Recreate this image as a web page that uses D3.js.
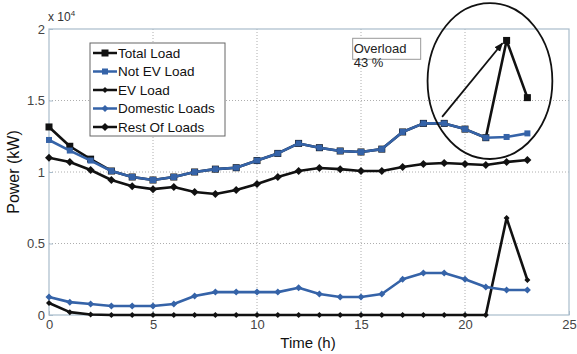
<!DOCTYPE html>
<html>
<head>
<meta charset="utf-8">
<script src="https://cdn.jsdelivr.net/npm/d3@7"></script>
<style>
body{margin:0;background:#fff}
text{font-family:"Liberation Sans",Arial,sans-serif}
</style>
</head>
<body>
<div id="chart"></div>
<script>
var width = 577
var height = 354
var margin = {top:29, right:8, bottom:39, left:49}

// hours 0..23, values in kW
var hours = d3.range(0,24)
var totalLoad = [13150,11800,10900,10070,9650,9440,9650,10000,10200,10300,10800,11300,12000,11700,11470,11400,11600,12800,13400,13400,13000,12400,19200,15200]
var notEvLoad = [12240,11500,10800,10070,9650,9440,9650,10000,10200,10300,10800,11300,12000,11700,11470,11400,11600,12800,13400,13400,13000,12400,12450,12700]
var evLoad = [840,200,30,0,0,0,0,0,0,0,0,0,0,0,0,0,0,0,0,0,0,0,6780,2450]
var domesticLoads = [1260,900,770,630,630,630,770,1330,1600,1600,1600,1600,1900,1470,1260,1260,1470,2500,2940,2940,2500,1960,1750,1750]
var restOfLoads = [11000,10700,10140,9440,9000,8800,8950,8600,8460,8740,9160,9650,10070,10280,10200,10070,10070,10350,10560,10630,10560,10490,10700,10840]

var xTicks = [0,5,10,15,20,25]
var yTicks = [0,5000,10000,15000,20000]
var yTickLabels = ["0","0.5","1","1.5","2"]

// annotation (data units)
var overloadText = ["Overload","43 %"]
var overloadPos = [14.6,19350]
var arrowFrom = [18.9,13850]
var arrowTo = [21.8,19000]
var ellipseC = [21.2,16360]
var ellipseR = [3.0,5450]

var blue = "#3563a8"

var series = [
  {name:"Total Load", values:totalLoad, color:"#111", shape:"square", size:7},
  {name:"Not EV Load", values:notEvLoad, color:blue, shape:"square", size:6},
  {name:"EV Load", values:evLoad, color:"#111", shape:"diamond", size:5},
  {name:"Domestic Loads", values:domesticLoads, color:blue, shape:"diamond", size:6},
  {name:"Rest Of Loads", values:restOfLoads, color:"#111", shape:"diamond", size:7}
]

var svg = d3.select("#chart").append("svg")
  .attr("width",width)
  .attr("height",height)

var x = d3.scaleLinear().domain([0,25]).range([margin.left,width-margin.right])
var y = d3.scaleLinear().domain([0,20000]).range([height-margin.bottom,margin.top])

// grid
svg.append("g").selectAll("line")
  .data(xTicks.slice(1,-1))
  .enter().append("line")
  .attr("x1",d=>x(d)).attr("x2",d=>x(d))
  .attr("y1",y(0)).attr("y2",y(20000))
  .attr("stroke","#999").attr("stroke-width",0.8).attr("stroke-dasharray","1,2")
svg.append("g").selectAll("line")
  .data(yTicks.slice(1,-1))
  .enter().append("line")
  .attr("x1",x(0)).attr("x2",x(25))
  .attr("y1",d=>y(d)).attr("y2",d=>y(d))
  .attr("stroke","#999").attr("stroke-width",0.8).attr("stroke-dasharray","1,2")

// frame
svg.append("rect")
  .attr("x",x(0)).attr("y",y(20000))
  .attr("width",x(25)-x(0)).attr("height",y(0)-y(20000))
  .attr("fill","none").attr("stroke","#a9bccb").attr("stroke-width",1.2)

var xAxis = svg.append("g")
  .attr("transform","translate(0,"+y(0)+")")
  .call(d3.axisBottom(x).tickValues(xTicks).tickSize(-4).tickPadding(5))
var yAxis = svg.append("g")
  .attr("transform","translate("+x(0)+",0)")
  .call(d3.axisLeft(y).tickValues(yTicks).tickFormat((d,i)=>yTickLabels[i]).tickSize(-4).tickPadding(4))
;[xAxis,yAxis].forEach(a=>{
  a.select(".domain").remove()
  a.selectAll("line").attr("stroke","#a9bccb")
  a.selectAll("text").attr("fill","#444").style("font-size","13px")
})

svg.append("text")
  .attr("x",48).attr("y",21)
  .attr("fill","#333").style("font-size","12px")
  .html('x 10<tspan dy="-5" style="font-size:8px">4</tspan>')

svg.append("text")
  .attr("transform","translate(19,"+172+")rotate(270)")
  .attr("text-anchor","middle")
  .style("font-size","16px").attr("fill","#111")
  .text("Power (kW)")

svg.append("text")
  .attr("x",308).attr("y",348)
  .attr("text-anchor","middle")
  .style("font-size","15px").attr("fill","#111")
  .text("Time (h)")

var line = d3.line().x((d,i)=>x(hours[i])).y(d=>y(d))

function marker(g,s,cx,cy){
  if(s.shape=="square"){
    g.append("rect")
      .attr("x",cx-s.size/2).attr("y",cy-s.size/2)
      .attr("width",s.size).attr("height",s.size)
      .attr("fill",s.color)
  } else {
    var r = s.size/2+0.5
    g.append("path")
      .attr("d","M"+cx+","+(cy-r)+"L"+(cx+r)+","+cy+"L"+cx+","+(cy+r)+"L"+(cx-r)+","+cy+"Z")
      .attr("fill",s.color)
  }
}

series.forEach(s=>{
  var g = svg.append("g")
  g.append("path")
    .datum(s.values)
    .attr("d",line)
    .attr("fill","none")
    .attr("stroke",s.color)
    .attr("stroke-width",2.6)
    .attr("stroke-linejoin","round")
  s.values.forEach((v,i)=>marker(g,s,x(hours[i]),y(v)))
})

// legend
var leg = svg.append("g")
leg.append("rect")
  .attr("x",90).attr("y",43).attr("width",135).attr("height",93)
  .attr("fill","#fff").attr("stroke","#666").attr("stroke-width",1)
series.forEach((s,i)=>{
  var ly = 53+i*18.5
  leg.append("line")
    .attr("x1",93).attr("x2",117).attr("y1",ly).attr("y2",ly)
    .attr("stroke",s.color).attr("stroke-width",2.5)
  marker(leg,s,105,ly)
  leg.append("text")
    .attr("x",118).attr("y",ly+4.5)
    .style("font-size","13.5px").attr("fill","#111")
    .text(s.name)
})

// overload annotation
var ox = x(overloadPos[0]), oy = y(overloadPos[1])
svg.append("rect")
  .attr("x",ox).attr("y",oy)
  .attr("width",68).attr("height",21)
  .attr("fill","#fff").attr("stroke","#999")
overloadText.forEach((t,i)=>{
  svg.append("text")
    .attr("x",ox+1).attr("y",oy+15+i*14)
    .style("font-size","13px").attr("fill","#222")
    .text(t)
})

svg.append("defs").append("marker")
  .attr("id","ah").attr("viewBox","0 0 10 10")
  .attr("refX",9).attr("refY",5)
  .attr("markerWidth",5).attr("markerHeight",5)
  .attr("orient","auto")
  .append("path").attr("d","M0,1L10,5L0,9Z").attr("fill","#111")

svg.append("line")
  .attr("x1",x(arrowFrom[0])).attr("y1",y(arrowFrom[1]))
  .attr("x2",x(arrowTo[0])).attr("y2",y(arrowTo[1]))
  .attr("stroke","#111").attr("stroke-width",1.8)
  .attr("marker-end","url(#ah)")

svg.append("ellipse")
  .attr("cx",x(ellipseC[0])).attr("cy",y(ellipseC[1]))
  .attr("rx",x(ellipseR[0])-x(0)).attr("ry",y(0)-y(ellipseR[1]))
  .attr("fill","none").attr("stroke","#111").attr("stroke-width",1.8)
</script>
</body>
</html>
